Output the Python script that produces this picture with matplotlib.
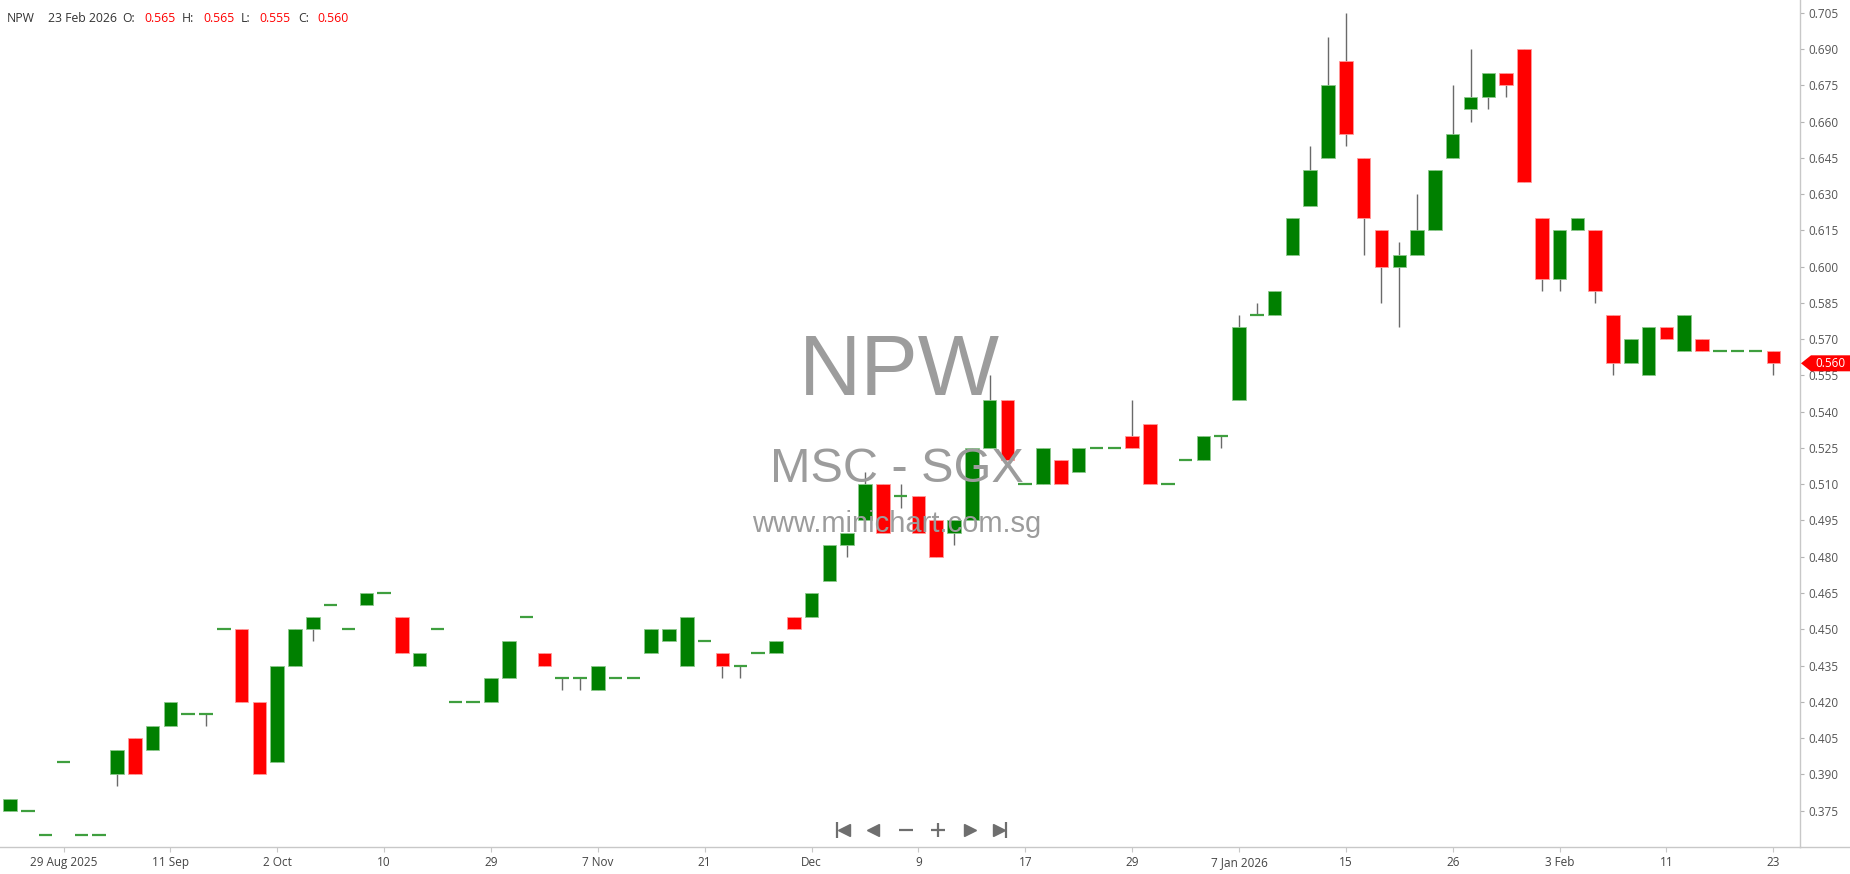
import matplotlib
matplotlib.use("Agg")
import matplotlib.pyplot as plt
from matplotlib.patches import Polygon
from matplotlib.lines import Line2D
import numpy as np

# ---------------- data ----------------
opens = [0.375, 0.375, 0.365, 0.395, 0.365, 0.365, 0.390, 0.405, 0.400, 0.410,
         0.415, 0.415, 0.450, 0.450, 0.420, 0.395, 0.435, 0.450, 0.460, 0.450,
         0.460, 0.465, 0.455, 0.435, 0.450, 0.420, 0.420, 0.420, 0.430, 0.455,
         0.440, 0.430, 0.430, 0.425, 0.430, 0.430, 0.440, 0.445, 0.435, 0.445,
         0.440, 0.435, 0.440, 0.440, 0.455, 0.455, 0.470, 0.485, 0.495, 0.510,
         0.505, 0.505, 0.495, 0.490, 0.495, 0.525, 0.545, 0.510, 0.510, 0.520,
         0.515, 0.525, 0.525, 0.530, 0.535, 0.510, 0.520, 0.520, 0.530, 0.545,
         0.580, 0.580, 0.605, 0.625, 0.645, 0.685, 0.645, 0.615, 0.600, 0.605,
         0.615, 0.645, 0.665, 0.670, 0.680, 0.690, 0.620, 0.595, 0.615, 0.615,
         0.580, 0.560, 0.555, 0.575, 0.565, 0.570, 0.565, 0.565, 0.565, 0.565]
highs = [0.380, 0.375, 0.365, 0.395, 0.365, 0.365, 0.400, 0.405, 0.410, 0.420,
         0.415, 0.415, 0.450, 0.450, 0.420, 0.435, 0.450, 0.455, 0.460, 0.450,
         0.465, 0.465, 0.455, 0.440, 0.450, 0.420, 0.420, 0.430, 0.445, 0.455,
         0.440, 0.430, 0.430, 0.435, 0.430, 0.430, 0.450, 0.450, 0.455, 0.445,
         0.440, 0.435, 0.440, 0.445, 0.455, 0.465, 0.485, 0.490, 0.515, 0.510,
         0.510, 0.505, 0.495, 0.495, 0.525, 0.555, 0.545, 0.510, 0.525, 0.520,
         0.525, 0.525, 0.525, 0.545, 0.535, 0.510, 0.520, 0.530, 0.530, 0.580,
         0.585, 0.590, 0.620, 0.650, 0.695, 0.705, 0.645, 0.615, 0.610, 0.630,
         0.640, 0.675, 0.690, 0.680, 0.680, 0.690, 0.620, 0.615, 0.620, 0.615,
         0.580, 0.570, 0.575, 0.575, 0.580, 0.570, 0.565, 0.565, 0.565, 0.565]
lows = [0.375, 0.375, 0.365, 0.395, 0.365, 0.365, 0.385, 0.390, 0.400, 0.410,
        0.415, 0.410, 0.450, 0.420, 0.390, 0.395, 0.435, 0.445, 0.460, 0.450,
        0.460, 0.465, 0.440, 0.435, 0.450, 0.420, 0.420, 0.420, 0.430, 0.455,
        0.435, 0.425, 0.425, 0.425, 0.430, 0.430, 0.440, 0.445, 0.435, 0.445,
        0.430, 0.430, 0.440, 0.440, 0.450, 0.455, 0.470, 0.480, 0.495, 0.490,
        0.500, 0.490, 0.480, 0.485, 0.495, 0.525, 0.520, 0.510, 0.510, 0.510,
        0.515, 0.525, 0.525, 0.525, 0.510, 0.510, 0.520, 0.520, 0.525, 0.545,
        0.580, 0.580, 0.605, 0.625, 0.645, 0.650, 0.605, 0.585, 0.575, 0.605,
        0.615, 0.645, 0.660, 0.665, 0.670, 0.635, 0.590, 0.590, 0.615, 0.585,
        0.555, 0.560, 0.555, 0.570, 0.565, 0.565, 0.565, 0.565, 0.565, 0.555]
closes = [0.380, 0.375, 0.365, 0.395, 0.365, 0.365, 0.400, 0.390, 0.410, 0.420,
          0.415, 0.415, 0.450, 0.420, 0.390, 0.435, 0.450, 0.455, 0.460, 0.450,
          0.465, 0.465, 0.440, 0.440, 0.450, 0.420, 0.420, 0.430, 0.445, 0.455,
          0.435, 0.430, 0.430, 0.435, 0.430, 0.430, 0.450, 0.450, 0.455, 0.445,
          0.435, 0.435, 0.440, 0.445, 0.450, 0.465, 0.485, 0.490, 0.510, 0.490,
          0.505, 0.490, 0.480, 0.495, 0.525, 0.545, 0.520, 0.510, 0.525, 0.510,
          0.525, 0.525, 0.525, 0.525, 0.510, 0.510, 0.520, 0.530, 0.530, 0.575,
          0.580, 0.590, 0.620, 0.640, 0.675, 0.655, 0.620, 0.600, 0.605, 0.615,
          0.640, 0.655, 0.670, 0.680, 0.675, 0.635, 0.595, 0.615, 0.620, 0.590,
          0.560, 0.570, 0.575, 0.570, 0.580, 0.565, 0.565, 0.565, 0.565, 0.560]

tick_positions = [3, 9, 15, 21, 27, 33, 39, 45, 51, 57, 63, 69, 75, 81, 87, 93, 99]
tick_labels = ["29 Aug 2025", "11 Sep", "2 Oct", "10", "29", "7 Nov", "21", "Dec",
               "9", "17", "29", "7 Jan 2026", "15", "26", "3 Feb", "11", "23"]
price_ticks = [0.375, 0.390, 0.405, 0.420, 0.435, 0.450, 0.465, 0.480, 0.495,
               0.510, 0.525, 0.540, 0.555, 0.570, 0.585, 0.600, 0.615, 0.630,
               0.645, 0.660, 0.675, 0.690, 0.705]

symbol = "NPW"
last_date = "23 Feb 2026"

# ---------------- figure ----------------
plt.rcParams["font.family"] = ["Open Sans", "DejaVu Sans"]
W, H = 1850, 874
fig = plt.figure(figsize=(W / 100, H / 100), dpi=100)
fig.patch.set_facecolor("white")

ax = fig.add_axes([0, 27 / H, 1800 / W, 847 / H])
ax.set_facecolor("none")

o = np.array(opens)
h = np.array(highs)
l = np.array(lows)
c = np.array(closes)
x = np.arange(len(o))
up = c > o
dn = c < o
flat = c == o
bw = 0.76

ax.vlines(x, l, h, color="#6a6a6a", lw=1.0, zorder=2)
ax.bar(x[up], (c - o)[up], bottom=o[up], width=bw, color="#008000",
       edgecolor="#8cc88c", linewidth=0.6, zorder=3)
ax.bar(x[dn], (o - c)[dn], bottom=c[dn], width=bw, color="#ff0000",
       edgecolor="#ff9a9a", linewidth=0.6, zorder=3)
ax.hlines(o[flat], x[flat] - bw / 2, x[flat] + bw / 2, color="#3f9f3f",
          lw=1.6, zorder=3)

ax.set_xlim(-0.567, 100.5)
ax.set_ylim(0.35997, 0.71025)

ax.yaxis.tick_right()
ax.set_yticks(price_ticks)
ax.set_yticklabels([f"{v:.3f}" for v in price_ticks])
ax.tick_params(axis="y", direction="out", length=2.9, width=0.8,
               color="#b4b4b4", labelsize=8.5, labelcolor="#555555", pad=3)
ax.set_xticks(tick_positions)
ax.set_xticklabels(tick_labels)
ax.tick_params(axis="x", direction="out", length=3.6, width=0.8,
               color="#c8c8c8", labelsize=8.5, labelcolor="#444444", pad=3)
for s in ["top", "left"]:
    ax.spines[s].set_visible(False)
for s in ["right", "bottom"]:
    ax.spines[s].set_color("#c8c8c8")
    ax.spines[s].set_linewidth(1.0)

# bottom line continues under the price scale
fig.add_artist(Line2D([1800 / W, 1.0], [27 / H, 27 / H], color="#c8c8c8",
                      lw=1.0, transform=fig.transFigure))


def fx(px):
    return px / W


def fy(py):
    return 1 - py / H


# watermark
wm = "#9c9c9c"
fig.text(fx(899), fy(395), symbol, fontsize=62, color=wm, ha="center",
         va="baseline", family=["Liberation Sans"], zorder=0.5)
fig.text(fx(897), fy(482), "MSC - SGX", fontsize=35, color=wm, ha="center",
         va="baseline", family=["Liberation Sans"], zorder=0.5)
fig.text(fx(897), fy(532), "www.minichart.com.sg", fontsize=21, color=wm,
         ha="center", va="baseline", family=["Liberation Sans"], zorder=0.5)

# header
hdr = [(7, symbol, "#333333"), (48, last_date, "#333333"),
       (122, "O:", "#333333"), (144, f"{opens[-1]:.3f}", "#ff0000"),
       (182, "H:", "#333333"), (203, f"{highs[-1]:.3f}", "#ff0000"),
       (241, "L:", "#333333"), (259, f"{lows[-1]:.3f}", "#ff0000"),
       (298, "C:", "#333333"), (317, f"{closes[-1]:.3f}", "#ff0000")]
for px_, s, col in hdr:
    fig.text(fx(px_), fy(22), s, fontsize=8.8, color=col, ha="left",
             va="baseline")

# last price marker on the scale
yl = ax.transData.transform((0, closes[-1]))[1]
yl_px = H - yl
marker = Polygon([(fx(1801), fy(yl_px)), (fx(1811), fy(yl_px - 8)),
                  (fx(1850), fy(yl_px - 8)), (fx(1850), fy(yl_px + 8)),
                  (fx(1811), fy(yl_px + 8))], closed=True,
                 transform=fig.transFigure, facecolor="#ff0000",
                 edgecolor="none", zorder=5)
fig.add_artist(marker)
fig.text(fx(1830), fy(yl_px), f"{closes[-1]:.3f}", fontsize=8.5,
         color="white", ha="center", va="center", zorder=6)

# navigation buttons
ui = fig.add_axes([0, 0, 1, 1], facecolor="none")
ui.set_xlim(0, W)
ui.set_ylim(H, 0)
ui.axis("off")
nc = "#6e6e6e"
ui.plot([837], [830], marker="|", ms=11, mew=1.6, color=nc)
ui.plot([844], [830], marker="<", ms=8, color=nc, mec=nc)
ui.plot([873], [830], marker="<", ms=8, color=nc, mec=nc)
ui.plot([906], [830], marker="_", ms=10, mew=1.6, color=nc)
ui.plot([938], [830], marker="+", ms=10, mew=1.6, color=nc)
ui.plot([970], [830], marker=">", ms=8, color=nc, mec=nc)
ui.plot([999], [830], marker=">", ms=8, color=nc, mec=nc)
ui.plot([1006], [830], marker="|", ms=11, mew=1.6, color=nc)

fig.savefig("out.png", dpi=100, facecolor="white")
